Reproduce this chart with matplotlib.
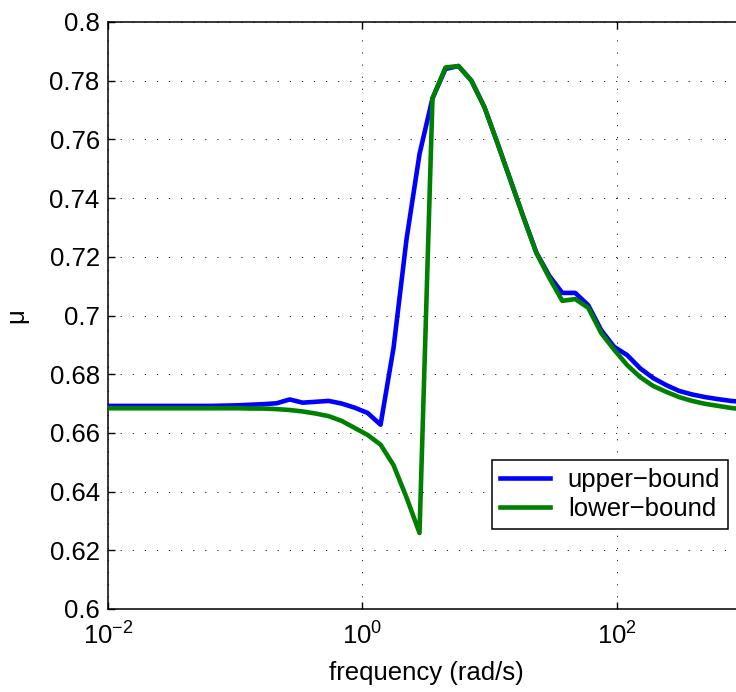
import numpy as np
import matplotlib
matplotlib.use("Agg")
import matplotlib.pyplot as plt
from matplotlib.ticker import NullLocator, FixedLocator

plt.rcParams["font.family"] = ["Liberation Sans", "DejaVu Sans"]
plt.rcParams["mathtext.fontset"] = "custom"
plt.rcParams["mathtext.rm"] = "Liberation Sans"
plt.rcParams["mathtext.it"] = "Liberation Sans:italic"

# frequency grid (rad/s), 50 log-spaced points from 1e-2 to 1e3
freq = np.logspace(-2, 3, 50)

upper_bound = [
    0.6692, 0.6692, 0.6692, 0.6692, 0.6692, 0.6692, 0.6692, 0.6692, 0.6692, 0.6693,
    0.6694, 0.6696, 0.6698, 0.6701, 0.6714, 0.6703, 0.6706, 0.6709, 0.6700, 0.6686,
    0.6668, 0.6628, 0.6890, 0.7260, 0.7550, 0.7740, 0.7840, 0.7850, 0.7800, 0.7710,
    0.7588, 0.7462, 0.7336, 0.7215, 0.7135, 0.7077, 0.7077, 0.7035, 0.6950, 0.6893,
    0.6865, 0.6820, 0.6787, 0.6763, 0.6743, 0.6731, 0.6722, 0.6715, 0.6709, 0.6705,
]
lower_bound = [
    0.6684, 0.6684, 0.6684, 0.6684, 0.6684, 0.6684, 0.6684, 0.6684, 0.6684, 0.6684,
    0.6684, 0.6683, 0.6683, 0.6681, 0.6678, 0.6673, 0.6666, 0.6657, 0.6641, 0.6617,
    0.6593, 0.6560, 0.6490, 0.6380, 0.6259, 0.7740, 0.7845, 0.7850, 0.7800, 0.7710,
    0.7588, 0.7462, 0.7336, 0.7213, 0.7128, 0.7050, 0.7056, 0.7026, 0.6940, 0.6883,
    0.6831, 0.6790, 0.6760, 0.6740, 0.6722, 0.6709, 0.6699, 0.6692, 0.6685, 0.6680,
]
y_ticks = [0.6, 0.62, 0.64, 0.66, 0.68, 0.7, 0.72, 0.74, 0.76, 0.78, 0.8]

W, H = 736, 692
fig = plt.figure(figsize=(W / 100, H / 100), dpi=100)
# axes right edge lies past the figure edge (the source image is cropped)
ax = fig.add_axes([108 / W, (H - 609) / H, (744 - 108) / W, (609 - 22) / H])

ax.plot(freq, upper_bound, color=(0, 0, 1), lw=3.3, label="upper\u2212bound", zorder=3)
ax.plot(freq, lower_bound, color=(0, 0.5, 0), lw=3.3, label="lower\u2212bound", zorder=4)

ax.set_xscale("log")
ax.set_xlim(1e-2, 1e3)
ax.set_ylim(0.6, 0.8)
ax.xaxis.set_major_locator(FixedLocator([1e-2, 1e0, 1e2]))
ax.xaxis.set_minor_locator(NullLocator())
ax.set_xticklabels([r"$10^{-2}$", r"$10^{0}$", r"$10^{2}$"])
ax.set_yticks(y_ticks)
ax.set_yticklabels([f"{v:g}" for v in y_ticks])

ax.tick_params(axis="both", which="major", direction="in", length=5, width=1,
               labelsize=18.5, top=True, right=True)
ax.tick_params(axis="x", pad=10)
ax.tick_params(axis="y", pad=6)
ax.grid(True, color="black", lw=0.6, linestyle=(0, (1.5, 13)))
for s in ax.spines.values():
    s.set_linewidth(1.1)

ax.set_xlabel("frequency (rad/s)", fontsize=18.5, labelpad=8)
ax.set_ylabel("\u03bc", fontsize=18.5, labelpad=15)

leg = ax.legend(loc="upper left", bbox_to_anchor=(492 / W, 1 - 460 / H),
                bbox_transform=fig.transFigure, fontsize=18.5, fancybox=False,
                framealpha=1, edgecolor="black", handlelength=1.95,
                borderpad=0.3, labelspacing=0.2, handletextpad=0.7,
                borderaxespad=0)
leg.get_frame().set_linewidth(1.1)

fig.savefig("out.png", dpi=100)
